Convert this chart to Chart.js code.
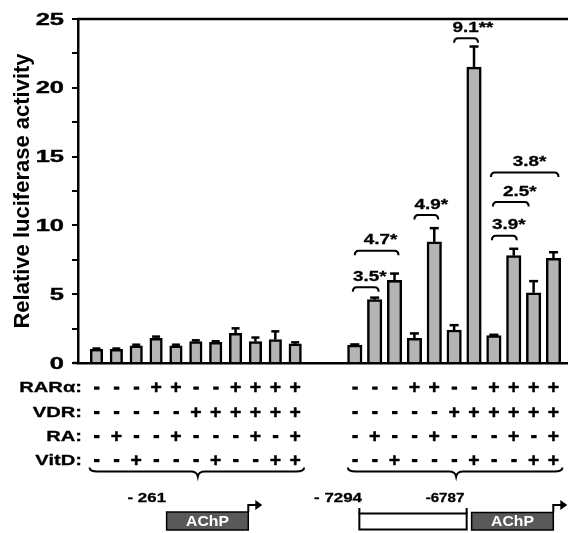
<!DOCTYPE html>
<html><head><meta charset="utf-8">
<script src="https://cdn.jsdelivr.net/npm/chart.js@4.4.0/dist/chart.umd.min.js"></script>
<style>html,body{margin:0;padding:0;background:#fff}#wrap{width:568px;height:533px}</style>
</head><body><div id="wrap"><canvas id="c" width="568" height="533"></canvas></div>
<script>
// ---------- data ----------
const yAxisTitle = 'Relative luciferase activity';
const yTickValues = [0, 5, 10, 15, 20, 25];
const yMinorStep = 2.5;
const constructs = ['- 261', '- 7294'];
const enhancerEnd = '-6787';
const promoterName = 'AChP';
const rowLabels = ['RAR\u03B1:', 'VDR:', 'RA:', 'VitD:'];
const rarAlpha = ['-','-','-','+','+','-','-','+','+','+','+'];
const vdr      = ['-','-','-','-','-','+','+','+','+','+','+'];
const ra       = ['-','+','-','-','+','-','-','-','+','-','+'];
const vitD     = ['-','-','+','-','-','-','+','-','-','+','+'];
const act261   = [1.0, 1.0, 1.25, 1.8, 1.25, 1.55, 1.5, 2.15, 1.55, 1.7, 1.4];
const err261   = [0.05, 0.05, 0.08, 0.12, 0.08, 0.1, 0.08, 0.37, 0.3, 0.6, 0.1];
const act7294  = [1.3, 4.6, 6.0, 1.8, 8.8, 2.4, 21.5, 2.0, 7.8, 5.1, 7.6];
const err7294  = [0.05, 0.15, 0.5, 0.35, 1.0, 0.35, 1.5, 0.05, 0.5, 0.85, 0.45];
const foldChanges = ['3.5*', '4.7*', '4.9*', '9.1**', '3.9*', '2.5*', '3.8*'];

// ---------- layout (not data) ----------
const GAP = 2; // empty slots between the two constructs
const slot = (g, i) => g * (act261.length + GAP) + i;
const FONT = '"Liberation Sans", Arial, Helvetica, sans-serif';
// bracket spans (slot units) and levels (axis units), text centre (slot units)
const brackets = [
  {from: 12.9, to: 14.2, level: 5.5, tx: 13.75},
  {from: 13.0, to: 15.2, level: 8.15, tx: 14.3},
  {from: 16.0, to: 17.2, level: 10.75, tx: 16.85},
  {from: 18.0, to: 19.2, level: 23.6, tx: 18.95},
  {from: 19.9, to: 21.15, level: 9.25, tx: 20.75},
  {from: 19.95, to: 21.75, level: 11.7, tx: 21.3},
  {from: 19.85, to: 23.25, level: 13.85, tx: 21.8}
];

function txt(ctx, s, x, y, o) {
  o = Object.assign({size: 14, sx: 1, sy: 1, align: 'center', color: '#000', rot: 0, base: 'middle', heavy: 0}, o || {});
  ctx.save();
  ctx.translate(x, y);
  if (o.rot) ctx.rotate(o.rot);
  ctx.scale(o.sx, o.sy);
  ctx.font = 'bold ' + o.size + 'px ' + FONT;
  ctx.textAlign = o.align;
  ctx.textBaseline = o.base;
  ctx.fillStyle = o.color;
  ctx.fillText(s, 0, 0);
  if (o.heavy) { ctx.lineWidth = o.heavy; ctx.strokeStyle = o.color; ctx.strokeText(s, 0, 0); }
  ctx.restore();
}

const errorSets = [err261, err7294];

const decor = {
  id: 'decor',
  afterDraw(chart) {
    const {ctx, scales: {x, y}, chartArea: ca} = chart;
    ctx.save();
    ctx.strokeStyle = '#000';
    ctx.fillStyle = '#000';
    ctx.lineCap = 'butt';
    // top frame line
    ctx.lineWidth = 2.5;
    ctx.beginPath(); ctx.moveTo(ca.left - 1, ca.top); ctx.lineTo(568, ca.top); ctx.stroke();
    // axis line extends slightly left at the base
    ctx.beginPath(); ctx.moveTo(ca.left - 5, ca.bottom); ctx.lineTo(ca.left, ca.bottom); ctx.stroke();

    // error bars
    chart.data.datasets.forEach((ds, di) => {
      const meta = chart.getDatasetMeta(di);
      meta.data.forEach((el, i) => {
        const v = ds.data[i].y, e = errorSets[di][i];
        const yt = y.getPixelForValue(v + e);
        const cw = di === 0 ? 4 : 4.5;
        ctx.lineWidth = 2.5;
        ctx.beginPath(); ctx.moveTo(el.x, el.y); ctx.lineTo(el.x, yt); ctx.stroke();
        ctx.beginPath(); ctx.moveTo(el.x - cw, yt); ctx.lineTo(el.x + cw, yt); ctx.stroke();
      });
    });

    // y tick labels
    yTickValues.forEach(v => {
      txt(ctx, String(v), 64, y.getPixelForValue(v) + 1, {size: 17, sx: 1.5, align: 'right', heavy: 0.4});
    });
    // y title
    txt(ctx, yAxisTitle, 23, (ca.top + ca.bottom) / 2, {size: 22, rot: -Math.PI / 2});

    // fold-change brackets
    ctx.lineWidth = 2;
    brackets.forEach((b, k) => {
      const x1 = x.getPixelForValue(b.from), x2 = x.getPixelForValue(b.to);
      const yy = y.getPixelForValue(b.level);
      ctx.lineWidth = 2; ctx.strokeStyle = '#000';
      ctx.beginPath();
      ctx.moveTo(x1, yy + 4.5);
      ctx.quadraticCurveTo(x1, yy, x1 + 4, yy);
      ctx.lineTo(x2 - 4, yy);
      ctx.quadraticCurveTo(x2, yy, x2, yy + 4.5);
      ctx.stroke();
      txt(ctx, foldChanges[k], x.getPixelForValue(b.tx), yy - 10.5, {size: 14.5, sx: 1.3, heavy: 0.3});
    });

    // treatment table
    const rows = [rarAlpha, vdr, ra, vitD];
    const rowY = [388, 412.5, 436.5, 460.5];
    rows.forEach((r, ri) => {
      txt(ctx, rowLabels[ri], 82, rowY[ri], {size: 15.5, sx: 1.3, align: 'right', heavy: 0.3});
      for (let g = 0; g < 2; g++) {
        r.forEach((s, i) => {
          const px = x.getPixelForValue(slot(g, i));
          if (s === '+') txt(ctx, '+', px, rowY[ri], {size: 18.5, sx: 1.05, heavy: 0.5});
          else { ctx.fillStyle = '#000'; ctx.fillRect(px - 2.5, rowY[ri] - 1.5, 5.5, 3.2); }
        });
      }
    });

    // braces
    ctx.lineWidth = 2; ctx.strokeStyle = '#000';
    for (let g = 0; g < 2; g++) {
      const first = slot(g, 0), last = slot(g, act261.length - 1);
      const xL = x.getPixelForValue(first - 0.35), xR = x.getPixelForValue(last + 0.45);
      const xm = x.getPixelForValue((first + last) / 2 + 0.1);
      const yb = 471.5;
      ctx.beginPath();
      ctx.moveTo(xL, yb - 4);
      ctx.quadraticCurveTo(xL, yb, xL + 8, yb);
      ctx.lineTo(xm - 7, yb);
      ctx.quadraticCurveTo(xm - 1, yb, xm, yb + 5);
      ctx.quadraticCurveTo(xm + 1, yb, xm + 7, yb);
      ctx.lineTo(xR - 8, yb);
      ctx.quadraticCurveTo(xR, yb, xR, yb - 4);
      ctx.stroke();
    }

    // promoter diagrams
    function achp(x1, x2, top, bot) {
      ctx.fillStyle = '#595959';
      ctx.fillRect(x1, top, x2 - x1, bot - top);
      ctx.lineWidth = 1.5; ctx.strokeStyle = '#000';
      ctx.strokeRect(x1, top, x2 - x1, bot - top);
      txt(ctx, promoterName, (x1 + x2) / 2, (top + bot) / 2 + 0.5, {size: 15, sx: 1.05, color: '#fff'});
      // arrow
      const tip = x2 + 14;
      ctx.lineWidth = 2; ctx.strokeStyle = '#000';
      ctx.beginPath(); ctx.moveTo(x2, top); ctx.lineTo(x2, 505); ctx.lineTo(tip - 6, 505); ctx.stroke();
      ctx.fillStyle = '#000';
      ctx.beginPath(); ctx.moveTo(tip - 7, 500); ctx.lineTo(tip, 505); ctx.lineTo(tip - 7, 510); ctx.closePath(); ctx.fill();
    }
    const g0 = slot(0, 0), g1 = slot(1, 0);
    txt(ctx, constructs[0], x.getPixelForValue(g0 + 3.5), 498.5, {size: 13.5, sx: 1.25, align: 'right', heavy: 0.3});
    achp(x.getPixelForValue(g0 + 3.53), x.getPixelForValue(g0 + 7.64), 512, 530);

    txt(ctx, constructs[1], x.getPixelForValue(g1 + 0.36), 498.5, {size: 13.5, sx: 1.25, align: 'right', heavy: 0.3});
    txt(ctx, enhancerEnd, x.getPixelForValue(g1 + 4.54), 498.5, {size: 13.5, sx: 1.12, heavy: 0.3});
    const ex1 = x.getPixelForValue(g1 + 0.23), ex2 = x.getPixelForValue(g1 + 5.63);
    ctx.fillStyle = '#fff'; ctx.fillRect(ex1, 513.5, ex2 - ex1, 16);
    ctx.lineWidth = 2; ctx.strokeStyle = '#000';
    ctx.strokeRect(ex1, 513.5, ex2 - ex1, 16);
    ctx.beginPath(); ctx.moveTo(ex1, 508); ctx.lineTo(ex1, 514); ctx.moveTo(ex2, 508); ctx.lineTo(ex2, 514); ctx.stroke();
    achp(x.getPixelForValue(g1 + 5.88), x.getPixelForValue(g1 + 9.99), 512.5, 530);
    ctx.restore();
  }
};

const barStyle = {backgroundColor: '#b4b4b4', borderColor: '#000', borderWidth: 2.5, grouped: false, borderSkipped: 'start'};
new Chart(document.getElementById('c'), {
  type: 'bar',
  data: {
    datasets: [
      Object.assign({label: constructs[0], data: act261.map((v, i) => ({x: slot(0, i), y: v})), barThickness: 12.5}, barStyle),
      Object.assign({label: constructs[1], data: act7294.map((v, i) => ({x: slot(1, i), y: v})), barThickness: 14.5}, barStyle)
    ]
  },
  options: {
    responsive: false, animation: false, devicePixelRatio: 1,
    layout: {padding: {left: 0, right: 1, top: 19, bottom: 0}},
    plugins: {legend: {display: false}, tooltip: {enabled: false}},
    scales: {
      x: {type: 'linear', min: -0.93, max: 23.68, z: 1, offset: false,
          ticks: {display: false}, grid: {display: false, offset: false},
          border: {color: '#000', width: 2.5},
          afterFit: s => { s.height = 170; }},
      y: {type: 'linear', min: 0, max: 25, z: 1,
          ticks: {display: false, stepSize: yMinorStep},
          grid: {drawOnChartArea: false, drawTicks: true, tickLength: 6, color: '#000', lineWidth: 2},
          border: {color: '#000', width: 2.5},
          afterFit: s => { s.width = 78; }}
    }
  },
  plugins: [decor]
});
</script></body></html>
